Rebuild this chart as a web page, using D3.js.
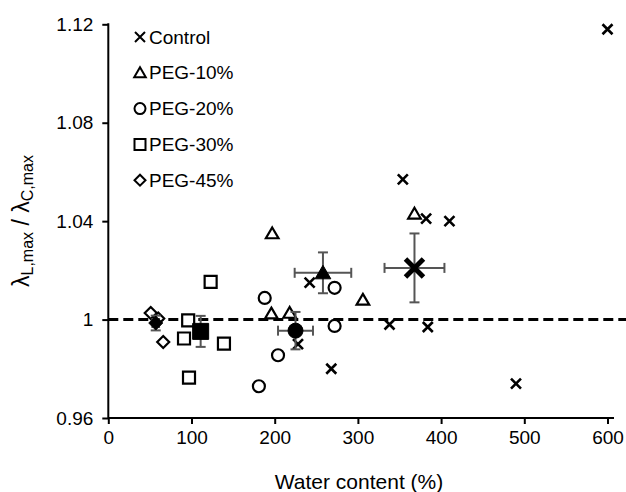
<!DOCTYPE html>
<html>
<head>
<meta charset="utf-8">
<script src="https://cdn.jsdelivr.net/npm/d3@7/dist/d3.min.js"></script>
<style>
  html, body { margin: 0; padding: 0; background: #fff; }
  svg { display: block; font-family: "Liberation Sans", Arial, sans-serif; }
</style>
</head>
<body>
<svg id="chart" width="626" height="492"></svg>
<script>
// Individual specimens: water content (%) and ratio of maximum stretches
const controlWater = [600, 354, 382, 410, 338, 384, 490, 268, 228, 242];
const controlRatio = [1.118, 1.057, 1.041, 1.040, 0.998, 0.997, 0.974, 0.980, 0.990, 1.015];

const peg10Water = [197, 196, 218, 368, 306];
const peg10Ratio = [1.035, 1.0024, 1.0027, 1.043, 1.008];

const peg20Water = [188, 204, 181, 272, 272];
const peg20Ratio = [1.0088, 0.9855, 0.9729, 1.0129, 0.9974];

const peg30Water = [123, 96, 91, 139, 97];
const peg30Ratio = [1.0153, 0.9997, 0.9923, 0.9902, 0.9764];

const peg45Water = [51, 60, 66];
const peg45Ratio = [1.0027, 1.0004, 0.9909];

// Group means with standard deviations
const groupNames = ["Control", "PEG-10%", "PEG-20%", "PEG-30%", "PEG-45%"];
const meanWater = [368, 258, 225, 111, 57];
const meanRatio = [1.021, 1.019, 0.9955, 0.9952, 0.9986];
const sdWater = [36, 34, 21, 6, 4];
const sdRatio = [0.014, 0.0083, 0.0076, 0.0063, 0.003];

const xTicks = [0, 100, 200, 300, 400, 500, 600];
const yTicks = [0.96, 1, 1.04, 1.08, 1.12];
const yTickLabels = ["0.96", "1", "1.04", "1.08", "1.12"];

const svg = d3.select("#chart");
svg.append("rect").attr("width", 626).attr("height", 492).attr("fill", "#fff");

const x = d3.scaleLinear().domain([0, 600]).range([108.3, 607.5]);
const y = d3.scaleLinear().domain([0.96, 1.12]).range([418, 24.3]);

// Axes
const xAxis = svg.append("g").attr("transform", `translate(0,${y(0.96)})`)
  .call(d3.axisBottom(x).tickValues(xTicks).tickSize(6).tickSizeOuter(0).tickPadding(7));
const yAxis = svg.append("g").attr("transform", `translate(${x(0)},0)`)
  .call(d3.axisLeft(y).tickValues(yTicks).tickFormat((d, i) => yTickLabels[i]).tickSize(6).tickSizeOuter(0).tickPadding(9));
[xAxis, yAxis].forEach(g => {
  g.select(".domain").remove();
  g.selectAll(".tick line").attr("stroke", "#000").attr("stroke-width", 2);
  g.selectAll(".tick text").attr("fill", "#000").style("font-size", "19px")
    .style("font-family", '"Liberation Sans", Arial, sans-serif');
});
svg.append("line").attr("x1", x(0)).attr("x2", 614).attr("y1", y(0.96)).attr("y2", y(0.96))
  .attr("stroke", "#000").attr("stroke-width", 2);
svg.append("line").attr("x1", x(0)).attr("x2", x(0)).attr("y1", y(1.12) - 1).attr("y2", y(0.96) + 1)
  .attr("stroke", "#000").attr("stroke-width", 2);

// Axis titles
svg.append("text").attr("x", 359).attr("y", 489).attr("text-anchor", "middle")
  .style("font-size", "21px").attr("fill", "#000").text("Water content (%)");
const yt = svg.append("text").attr("transform", `translate(29,221) rotate(-90)`)
  .attr("text-anchor", "middle").style("font-size", "23px").attr("fill", "#000");
yt.append("tspan").text("λ");
yt.append("tspan").attr("baseline-shift", "-25%").style("font-size", "16px").text("L,max");
yt.append("tspan").text(" / λ");
yt.append("tspan").attr("baseline-shift", "-25%").style("font-size", "16px").text("C,max");

// Reference line at ratio = 1
svg.append("line").attr("x1", x(0)).attr("x2", 626).attr("y1", y(1)).attr("y2", y(1))
  .attr("stroke", "#000").attr("stroke-width", 3).attr("stroke-dasharray", "10,5");

// Marker paths centred on the origin
function markerPath(kind, s) {
  const h = s / 2;
  switch (kind) {
    case "x": return `M${-h},${-h}L${h},${h}M${-h},${h}L${h},${-h}`;
    case "tri": return `M0,${-h * 1.0}L${h * 1.05},${h * 0.8}L${-h * 1.05},${h * 0.8}Z`;
    case "circle": return `M${h},0A${h},${h} 0 1,1 ${-h},0A${h},${h} 0 1,1 ${h},0Z`;
    case "square": return `M${-h},${-h}H${h}V${h}H${-h}Z`;
    case "diamond": return `M0,${-h}L${h},0L0,${h}L${-h},0Z`;
  }
}
const kinds = ["x", "tri", "circle", "square", "diamond"];
const openSize = { x: 10, tri: 12, circle: 12, square: 12, diamond: 12 };

const groups = [
  [controlWater, controlRatio],
  [peg10Water, peg10Ratio],
  [peg20Water, peg20Ratio],
  [peg30Water, peg30Ratio],
  [peg45Water, peg45Ratio]
];

groups.forEach(([wx, ry], gi) => {
  const k = kinds[gi];
  svg.append("g").selectAll("path").data(wx.map((w, i) => [w, ry[i]])).join("path")
    .attr("transform", d => `translate(${x(d[0])},${y(d[1])})`)
    .attr("d", markerPath(k, openSize[k]))
    .attr("fill", k === "x" ? "none" : "#fff")
    .attr("stroke", "#000").attr("stroke-width", k === "x" ? 2.6 : 2.2);
});

// Error bars for the group means
const cap = 5;
const eb = svg.append("g").attr("stroke", "#555").attr("stroke-width", 2);
meanWater.forEach((w, i) => {
  const cx = x(w), cy = y(meanRatio[i]);
  const x0 = x(w - sdWater[i]), x1 = x(w + sdWater[i]);
  const y0 = y(meanRatio[i] - sdRatio[i]), y1 = y(meanRatio[i] + sdRatio[i]);
  eb.append("line").attr("x1", x0).attr("x2", x1).attr("y1", cy).attr("y2", cy);
  eb.append("line").attr("x1", x0).attr("x2", x0).attr("y1", cy - cap).attr("y2", cy + cap);
  eb.append("line").attr("x1", x1).attr("x2", x1).attr("y1", cy - cap).attr("y2", cy + cap);
  eb.append("line").attr("x1", cx).attr("x2", cx).attr("y1", y0).attr("y2", y1);
  eb.append("line").attr("x1", cx - cap).attr("x2", cx + cap).attr("y1", y0).attr("y2", y0);
  eb.append("line").attr("x1", cx - cap).attr("x2", cx + cap).attr("y1", y1).attr("y2", y1);
});

// Filled markers for the means
const meanSize = { x: 18, tri: 15, circle: 15, square: 16, diamond: 14 };
meanWater.forEach((w, i) => {
  const k = kinds[i];
  svg.append("path")
    .attr("transform", `translate(${x(w)},${y(meanRatio[i])})`)
    .attr("d", markerPath(k, meanSize[k]))
    .attr("fill", k === "x" ? "none" : "#000")
    .attr("stroke", "#000").attr("stroke-width", k === "x" ? 5 : 1);
});

// Legend
const legend = svg.append("g");
groupNames.forEach((name, i) => {
  const ly = 37 + i * 35.8;
  const k = kinds[i];
  legend.append("path").attr("transform", `translate(140,${ly})`)
    .attr("d", markerPath(k, k === "x" ? 10 : 11))
    .attr("fill", "none").attr("stroke", "#000").attr("stroke-width", 2);
  legend.append("text").attr("x", 149).attr("y", ly).attr("dy", "0.35em")
    .style("font-size", "19px").attr("fill", "#000").text(name);
});
</script>
</body>
</html>
